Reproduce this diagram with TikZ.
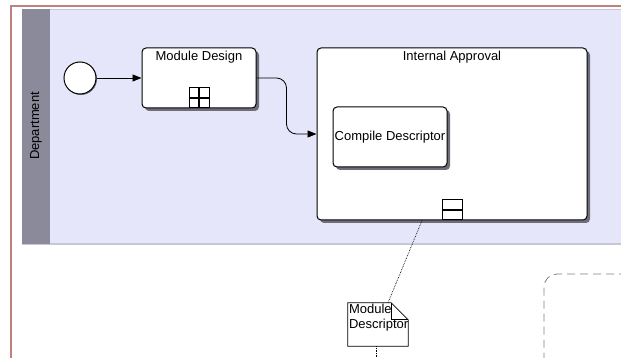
\documentclass[tikz,border=0pt]{standalone}
\usepackage{fontspec}
\setmainfont{Liberation Sans}
\usetikzlibrary{arrows.meta,shadows}

\definecolor{poolred}{RGB}{192,128,128}
\definecolor{lanefill}{RGB}{230,230,250}
\definecolor{laneline}{RGB}{200,200,210}
\definecolor{headgray}{RGB}{138,138,154}
\definecolor{shadowgray}{RGB}{110,110,120}

\begin{document}
\begin{tikzpicture}[x=1pt, y=-1pt,
	task node/.style={rectangle, rounded corners=4pt, draw, fill=white, line width=1pt,
		drop shadow={shadow xshift=3pt, shadow yshift=-3pt, fill=shadowgray, opacity=1},
		font=\fontsize{13}{15}\selectfont},
	title/.style={anchor=north, inner sep=3pt, font=\fontsize{13}{15}\selectfont},
	marker/.style={rectangle, draw, fill=white, minimum size=20pt, inner sep=0pt, line width=1pt},
	flow/.style={-{Triangle[length=9pt,width=7pt]}, line width=0.8pt},
	assoc/.style={densely dotted, line width=0.7pt}]
	
	\clip (0,0) rectangle (621,358);
	
	% pool and lane
	\fill[lanefill] (50,9.5) rectangle (621,244);
	\draw[laneline, line width=1.2pt] (22,9.5) -- (621,9.5) (22,244) -- (621,244);
	\fill[headgray] (22,9.5) rectangle (50,244);
	\draw[poolred, line width=1.2pt] (11,360) -- (11,6) -- (621,6);
	\node[rotate=90, font=\fontsize{13}{15}\selectfont] (lane) at (36,126) {Department};
	
	\node[circle, draw, fill=white, line width=1pt, minimum size=32pt, inner sep=0pt,
		drop shadow={shadow xshift=1pt, shadow yshift=-1pt, fill=shadowgray, opacity=1}] (start) at (80,78) {};
	\node[task node, minimum width=114pt, minimum height=60pt,
		label={[title]north:Module Design}] (design) at (199,78) {};
	\node[task node, minimum width=270pt, minimum height=172pt,
		label={[title]north:Internal Approval}] (approval) at (452,134) {};
	\node[task node, minimum width=114pt, minimum height=60pt, inner sep=0pt] (compile) at (390,137) {Compile Descriptor};
	
	% markers
	\node[marker, anchor=south] (plus) at (design.south) {};
	\draw[line width=1.6pt] (plus.north) -- (plus.south) (plus.west) -- (plus.east);
	\node[marker, anchor=south] (minus) at (approval.south) {};
	\draw[line width=2pt] (minus.west) -- (minus.east);
	
	% data object
	\node[minimum width=60pt, minimum height=43pt, inner sep=0pt] (doc) at (378,324.5) {};
	\draw[fill=white, line width=0.8pt] (doc.north west) -- ([xshift=-17pt]doc.north east)
		-- ([yshift=-17pt]doc.north east) -- (doc.south east) -- (doc.south west) -- cycle;
	\draw[line width=0.8pt] ([xshift=-17pt]doc.north east) |- ([yshift=-17pt]doc.north east);
	\node[anchor=north west, align=left, inner sep=1pt, font=\fontsize{13}{15}\selectfont]
		(doctext) at (doc.north west) {Module\\Descriptor};
	\coordinate (docout) at (376,362);
	
	% dashed group
	\draw[gray, dashed, dash pattern=on 8pt off 5pt, line width=0.8pt, rounded corners=13pt]
		(640,274) -- (544,274) -- (544,380);
	
	% connectors
	\path (start) edge[flow] (design);
	\draw[flow, rounded corners=10pt] (design.east) -- ++(30,0) |- (approval.west);
	\draw[assoc] ([xshift=-30pt]approval.south) -- ([xshift=10pt]doc.north);
	\draw[assoc] ([xshift=-2pt]doc.south) -- (docout);
\end{tikzpicture}
\end{document}
